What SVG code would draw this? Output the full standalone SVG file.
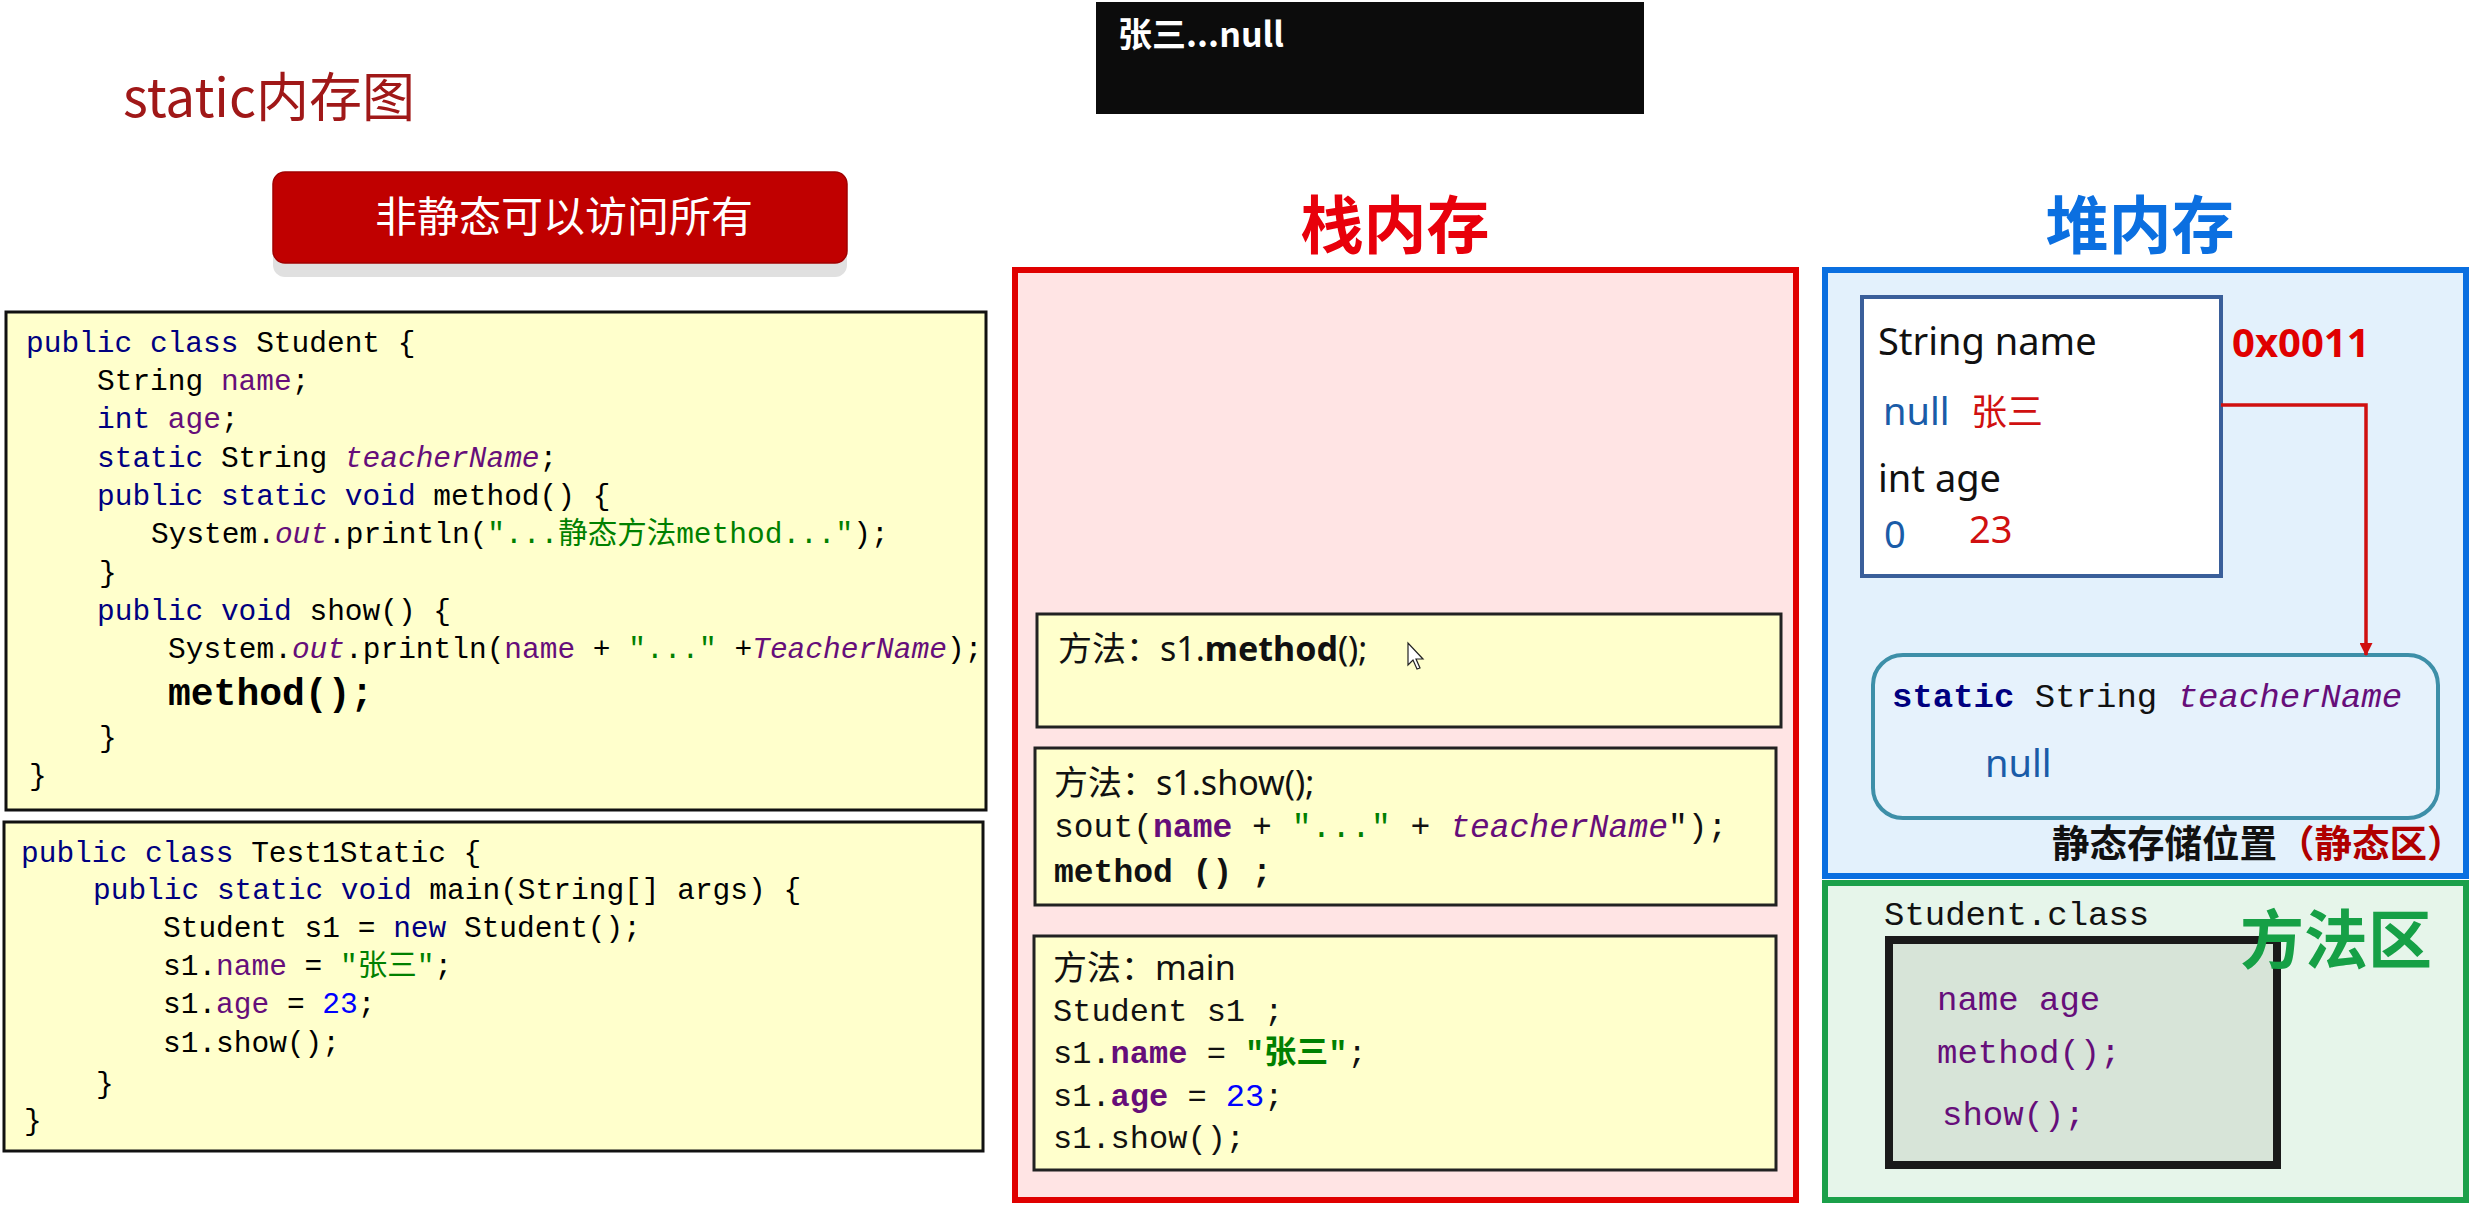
<svg xmlns="http://www.w3.org/2000/svg" width="2486" height="1211" viewBox="0 0 2486 1211">
<style>
.mono{font-family:"Liberation Mono","Noto Sans CJK SC",monospace}
.sans{font-family:"Noto Sans","Noto Sans CJK SC",sans-serif}
.cjk{font-family:"Noto Sans CJK SC",sans-serif}
.kw{fill:#000080}
.fld{fill:#660E7A}
.it{font-style:italic}
.str{fill:#008000}
.num{fill:#0000FF}
.b{font-weight:bold}
.code{font-size:29.5px;fill:#000}
.codebox{fill:#FFFFCC;stroke:#111;stroke-width:3}
.frame{fill:#FFFFCC;stroke:#222;stroke-width:3}
.blue{fill:#1A5CA8}
.red{fill:#D01010}
</style>
<defs>
<marker id="arrow" viewBox="0 0 12 12" refX="11" refY="6" markerWidth="13" markerHeight="13" markerUnits="userSpaceOnUse" orient="auto">
<path d="M0,0 L12,6 L0,12 Z" fill="#D01010"/>
</marker>
</defs>
<rect width="2486" height="1211" fill="#FFFFFF"/>

<g id="title">
<text x="123" y="117" class="cjk" font-size="53" fill="#A01818">static内存图</text>
</g>

<g id="console">
<rect x="1096" y="2" width="548" height="112" fill="#0C0C0C"/>
<text x="1118" y="47" class="cjk b" font-size="34" fill="#FFFFFF">张三...null</text>
</g>

<g id="button">
<rect x="273" y="186" width="574" height="91" rx="12" fill="#E0E0E0"/>
<rect x="273" y="172" width="574" height="91" rx="12" fill="#C00000" stroke="#A00000" stroke-width="1.5"/>
<text x="564" y="232" class="cjk" font-size="42" fill="#FFFFFF" text-anchor="middle">非静态可以访问所有</text>
</g>

<g id="student-code">
<rect x="6" y="312" width="980" height="498" class="codebox"/>
<g class="mono code">
<text x="26" y="352"><tspan class="kw">public class</tspan> Student {</text>
<text x="97" y="390">String <tspan class="fld">name</tspan>;</text>
<text x="97" y="428"><tspan class="kw">int</tspan> <tspan class="fld">age</tspan>;</text>
<text x="97" y="467"><tspan class="kw">static</tspan> String <tspan class="fld it">teacherName</tspan>;</text>
<text x="97" y="505"><tspan class="kw">public static void</tspan> method() {</text>
<text x="151" y="543">System.<tspan class="fld it">out</tspan>.println(<tspan class="str">"...静态方法method..."</tspan>);</text>
<text x="99" y="582">}</text>
<text x="97" y="620"><tspan class="kw">public void</tspan> show() {</text>
<text x="168" y="658">System.<tspan class="fld it">out</tspan>.println(<tspan class="fld">name</tspan> + <tspan class="str">"..."</tspan> +<tspan class="fld it">TeacherName</tspan>);</text>
<text x="168" y="705" class="b" font-size="38">method();</text>
<text x="99" y="747">}</text>
<text x="29" y="785">}</text>
</g>
</g>

<g id="test-code">
<rect x="4" y="822" width="979" height="329" class="codebox"/>
<g class="mono code">
<text x="21" y="862"><tspan class="kw">public class</tspan> Test1Static {</text>
<text x="93" y="899"><tspan class="kw">public static void</tspan> main(String[] args) {</text>
<text x="163" y="937">Student s1 = <tspan class="kw">new</tspan> Student();</text>
<text x="163" y="975">s1.<tspan class="fld">name</tspan> = <tspan class="str">"张三"</tspan>;</text>
<text x="163" y="1013">s1.<tspan class="fld">age</tspan> = <tspan class="num">23</tspan>;</text>
<text x="163" y="1052">s1.show();</text>
<text x="96" y="1093">}</text>
<text x="24" y="1130">}</text>
</g>
</g>

<g id="stack">
<text x="1395" y="248" class="cjk b" font-size="63" fill="#E8000B" text-anchor="middle">栈内存</text>
<rect x="1015" y="270" width="781" height="930" fill="#FFE4E4" stroke="#E00000" stroke-width="6"/>
</g>

<g id="frame-method">
<rect x="1037" y="614" width="744" height="113" class="frame"/>
<text x="1058" y="661" class="sans" font-size="34" fill="#111"><tspan class="cjk">方法：</tspan>s1.<tspan class="b">method</tspan>();</text>
<path d="M1408,643 L1408,665 L1413,660 L1417,669 L1420,668 L1416,659 L1423,659 Z" fill="#FFFFFF" stroke="#222" stroke-width="1.2"/>
</g>

<g id="frame-show">
<rect x="1035" y="748" width="741" height="157" class="frame"/>
<text x="1054" y="795" class="sans" font-size="34" fill="#111"><tspan class="cjk">方法：</tspan>s1.show();</text>
<text x="1054" y="837" class="mono" font-size="33" fill="#111">sout(<tspan class="fld b">name</tspan> + <tspan class="str">"..."</tspan> + <tspan class="fld it">teacherName</tspan>");</text>
<text x="1054" y="882" class="mono b" font-size="33" fill="#111">method () ;</text>
</g>

<g id="frame-main">
<rect x="1034" y="936" width="742" height="234" class="frame"/>
<text x="1053" y="980" class="sans" font-size="34" fill="#111"><tspan class="cjk">方法：</tspan>main</text>
<g class="mono" font-size="32" fill="#111">
<text x="1053" y="1021">Student s1 ;</text>
<text x="1053" y="1063">s1.<tspan class="fld b">name</tspan> = <tspan class="str b">"张三"</tspan>;</text>
<text x="1053" y="1106">s1.<tspan class="fld b">age</tspan> = <tspan class="num">23</tspan>;</text>
<text x="1053" y="1148">s1.show();</text>
</g>
</g>

<g id="heap">
<text x="2140" y="248" class="cjk b" font-size="63" fill="#0B6FE0" text-anchor="middle">堆内存</text>
<rect x="1825" y="270" width="641" height="606" fill="#E3F1FC" stroke="#0A6FE0" stroke-width="6"/>
</g>

<g id="student-object">
<rect x="1862" y="297" width="359" height="279" fill="#FFFFFF" stroke="#3A5F9A" stroke-width="4"/>
<text x="1878" y="355" class="sans" font-size="38" fill="#111">String name</text>
<text x="1883" y="425" class="sans blue" font-size="38">null</text>
<text x="1971" y="425" class="cjk red" font-size="36">张三</text>
<text x="1878" y="492" class="sans" font-size="38" fill="#111">int age</text>
<text x="1884" y="548" class="sans blue" font-size="38">0</text>
<text x="1969" y="543" class="sans red" font-size="38">23</text>
<text x="2232" y="357" class="sans b" font-size="40" fill="#E00000">0x0011</text>
</g>

<g id="static-area">
<rect x="1873" y="655" width="565" height="163" rx="30" fill="#E6F2FC" stroke="#3D8FA8" stroke-width="4"/>
<text x="1892" y="707" class="mono" font-size="34" fill="#111"><tspan class="kw b">static</tspan> String <tspan class="fld it">teacherName</tspan></text>
<text x="1985" y="777" class="sans blue" font-size="38">null</text>
<text x="2052" y="857" class="cjk b" font-size="37.5" fill="#111">静态存储位置<tspan fill="#B00000">（静态区）</tspan></text>
</g>

<g id="method-area">
<rect x="1825" y="883" width="641" height="317" fill="#E6F5EA" stroke="#1BA04A" stroke-width="6"/>
<text x="1884" y="925" class="mono" font-size="34" fill="#111">Student.class</text>
<rect x="1889" y="940" width="388" height="225" fill="#D7E4D8" stroke="#1A1A1A" stroke-width="8"/>
<text x="1937" y="1010" class="mono fld" font-size="34">name age</text>
<text x="1937" y="1063" class="mono fld" font-size="34">method();</text>
<text x="1942" y="1125" class="mono fld" font-size="34">show();</text>
<text x="2240" y="963" class="cjk b" font-size="64" fill="#16A046">方法区</text>
</g>

<g id="connectors">
<path d="M2221,405 L2366,405 L2366,655" fill="none" stroke="#D01010" stroke-width="3.5" marker-end="url(#arrow)"/>
</g>
</svg>
